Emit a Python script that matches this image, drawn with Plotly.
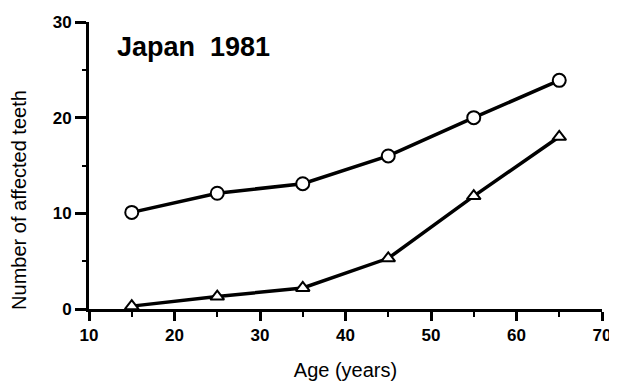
import plotly.graph_objects as go

ages = [15, 25, 35, 45, 55, 65]
circles = [10.1, 12.1, 13.1, 16.0, 20.0, 23.9]
triangles = [0.3, 1.3, 2.2, 5.3, 11.8, 18.0]
x_ticks = [10, 20, 30, 40, 50, 60, 70]
y_ticks = [0, 10, 20, 30]

fig = go.Figure()
fig.add_trace(go.Scatter(x=ages, y=circles, mode="lines+markers",
                         line=dict(color="black", width=3.5),
                         marker=dict(symbol="circle", size=13, color="white",
                                     line=dict(color="black", width=2)),
                         showlegend=False, cliponaxis=False))
fig.add_trace(go.Scatter(x=ages, y=triangles, mode="lines+markers",
                         line=dict(color="black", width=3.5),
                         marker=dict(symbol="triangle-up", size=12, color="white",
                                     line=dict(color="black", width=2)),
                         showlegend=False, cliponaxis=False))

tickfont = dict(family="Liberation Sans", size=17, color="black", weight="bold")
titlefont = dict(family="Liberation Sans", size=20, color="black")
fig.update_xaxes(range=[10, 70], tickvals=x_ticks, ticktext=[str(v) for v in x_ticks],
                 showgrid=False, zeroline=False, showline=True, linecolor="black",
                 linewidth=3, ticks="outside", ticklen=9, tickwidth=2.5, tickcolor="black",
                 tickfont=tickfont, automargin=False,
                 minor=dict(tickvals=[15, 25, 35, 45, 55, 65], ticks="outside", ticklen=5,
                            tickwidth=2, tickcolor="black"),
                 title=dict(text="Age (years)", font=titlefont, standoff=19))
fig.update_yaxes(range=[0, 30], tickvals=y_ticks, ticktext=[str(v) for v in y_ticks],
                 showgrid=False, zeroline=False, showline=True, linecolor="black",
                 linewidth=3, ticks="outside", ticklen=11, tickwidth=2.5, tickcolor="black",
                 tickfont=tickfont, automargin=False,
                 minor=dict(tickvals=[5, 15, 25], ticks="outside", ticklen=4,
                            tickwidth=2, tickcolor="black"))

fig.add_annotation(text="Number of affected teeth", xref="paper", yref="paper",
                   x=-0.1365, y=0.38, xanchor="center", yanchor="middle", textangle=-90,
                   showarrow=False, font=titlefont)
fig.add_annotation(text="Japan  1981", xref="paper", yref="paper", x=0.05, y=0.913,
                   xanchor="left", yanchor="middle", showarrow=False,
                   font=dict(family="Liberation Sans", size=27, color="black", weight="bold"))

fig.update_layout(width=609, height=378, margin=dict(l=81, r=15, t=14, b=77),
                  plot_bgcolor="white", paper_bgcolor="white")
fig.write_html("out.html")
